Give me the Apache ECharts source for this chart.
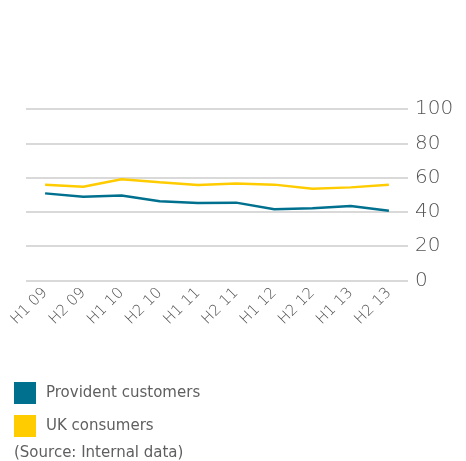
<!DOCTYPE html>
<html><head><meta charset="utf-8">
<script src="https://cdn.jsdelivr.net/npm/echarts@6/dist/echarts.min.js"></script>
<style>html,body{margin:0;padding:0;background:#fff}#c{width:466px;height:461px}</style>
</head><body><div id="c"></div>
<script>
const categories = ['H1 09','H2 09','H1 10','H2 10','H1 11','H2 11','H1 12','H2 12','H1 13','H2 13'];
const providentCustomers = [50.8, 48.9, 49.5, 46.2, 45.2, 45.4, 41.5, 42.1, 43.4, 40.7];
const ukConsumers = [55.9, 54.7, 59.0, 57.3, 55.7, 56.5, 55.9, 53.5, 54.3, 55.9];
const yTicks = { min: 0, max: 100, interval: 20 };
const sourceText = '(Source: Internal data)';

const chart = echarts.init(document.getElementById('c'), null, {renderer: 'canvas'});
const font = '"DejaVu Sans", sans-serif';
chart.setOption({
  animation: false,
  grid: { left: 26, right: 58, top: 109, bottom: 180.5, containLabel: false },
  xAxis: {
    type: 'category', data: categories, boundaryGap: true,
    axisLine: { show: false }, axisTick: { show: false },
    axisLabel: { rotate: 45, fontSize: 15, color: '#505050', margin: 10, fontFamily: font, fontWeight: 200, interval: 0 }
  },
  yAxis: {
    type: 'value', position: 'right', min: yTicks.min, max: yTicks.max, interval: yTicks.interval,
    axisLine: { show: false }, axisTick: { show: false },
    axisLabel: { fontSize: 20, color: '#555555', margin: 7, fontFamily: font, fontWeight: 200 },
    splitLine: { lineStyle: { color: '#cccccc', width: 1.5 } }
  },
  legend: {
    orient: 'vertical', left: 14, top: 382, padding: 0, itemWidth: 22, itemHeight: 22, itemGap: 11,
    icon: 'rect', textStyle: { fontSize: 15, color: '#5f5f5f', fontFamily: font, padding: [0,0,0,5] },
    data: ['Provident customers', 'UK consumers']
  },
  graphic: [{ type: 'text', left: 14, top: 446, style: { text: sourceText, fontSize: 15, fill: '#5f5f5f', fontFamily: font } }],
  series: [
    { name: 'Provident customers', type: 'line', data: providentCustomers, symbol: 'none',
      lineStyle: { color: '#00708f', width: 2.5 }, itemStyle: { color: '#00708f' } },
    { name: 'UK consumers', type: 'line', data: ukConsumers, symbol: 'none',
      lineStyle: { color: '#ffcc00', width: 2.5 }, itemStyle: { color: '#ffcc00' } }
  ]
});
</script></body></html>
